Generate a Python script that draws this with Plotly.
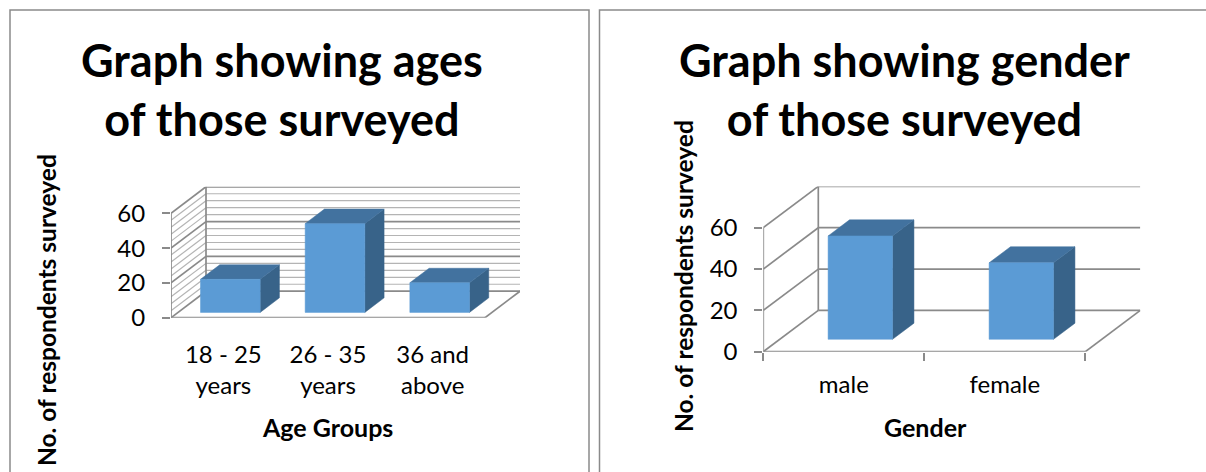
import plotly.graph_objects as go

# ---- data -------------------------------------------------------------
age_groups = ["18 - 25<br>years", "26 - 35<br>years", "36 and<br>above"]
age_counts = [19, 51, 17]

genders = ["male", "female"]
gender_counts = [50, 37]

value_ticks = [0, 20, 40, 60]
value_max = 60

# ---- styling ----------------------------------------------------------
W, H = 1206, 472
FONT = "Lato"
FRONT = "#5b9bd5"
TOP = "#42729f"
SIDE = "#386389"
GRID_MAJOR = "#8a8a8a"
GRID_MINOR = "#b4b4b4"


def px_x(v):
    return v / W


def px_y(v):
    return 1 - v / H


fig = go.Figure()


def add_chart(n, cats, values, xa, ya, geo):
    """Oblique-projection 3D column chart drawn on one pair of axes."""
    ddx = geo["ddx_px"] / geo["px_per_cat"]      # depth offset in category units
    ddy = geo["ddy_px"] / geo["px_per_val"]      # depth offset in value units
    xr = [0, n + ddx]
    yr = [0, value_max + ddy]
    x0 = geo["x0"]
    y0 = geo["y0"]
    dom_x = [px_x(x0), px_x(x0 + (n + ddx) * geo["px_per_cat"])]
    dom_y = [px_y(y0), px_y(y0 - (value_max + ddy) * geo["px_per_val"])]
    ax = dict(xaxis=xa.replace("x", "xaxis"), yaxis=ya.replace("y", "yaxis"))
    kw = dict(xaxis=xa, yaxis=ya, showlegend=False, hoverinfo="skip")

    def lines(segs, color, width):
        xs, ys = [], []
        for (a, b), (c, d) in segs:
            xs += [a, c, None]
            ys += [b, d, None]
        fig.add_trace(go.Scatter(x=xs, y=ys, mode="lines",
                                 line=dict(color=color, width=width), **kw))

    levels_minor = list(range(0, value_max + 1, geo["minor"])) if geo["minor"] else []
    minor_only = [v for v in levels_minor if v not in value_ticks]

    # side wall and back wall, minor lines
    if minor_only:
        lines([((0, v), (ddx, v + ddy)) for v in minor_only], GRID_MINOR, 1.2)
        lines([((ddx, v + ddy), (n + ddx, v + ddy)) for v in minor_only], GRID_MINOR, 1.2)
    # major levels
    lines([((0, v), (ddx, v + ddy)) for v in value_ticks], GRID_MAJOR, 1.7)
    lines([((ddx, v + ddy), (n + ddx, v + ddy)) for v in value_ticks], GRID_MAJOR, 1.7)
    # wall edge, front axis, floor edges
    lines([((ddx, ddy), (ddx, value_max + ddy)),
           ((0, 0), (0, value_max)),
           ((0, 0), (n, 0)),
           ((n, 0), (n + ddx, ddy))], GRID_MAJOR, 1.7)

    # columns
    bw = geo["bar_w"]
    f0, f1 = geo["f0"], geo["f1"]
    dd = (f1 - f0) * ddx
    dv = (f1 - f0) * ddy
    for i, v in enumerate(values):
        bx0 = i + (1 - bw) / 2 + f0 * ddx
        bx1 = bx0 + bw
        by0 = f0 * ddy
        by1 = v + by0
        faces = [
            ([bx1, bx1 + dd, bx1 + dd, bx1, bx1], [by0, by0 + dv, by1 + dv, by1, by0], SIDE),
            ([bx0, bx1, bx1 + dd, bx0 + dd, bx0], [by1, by1, by1 + dv, by1 + dv, by1], TOP),
            ([bx0, bx1, bx1, bx0, bx0], [by0, by0, by1, by1, by0], FRONT),
        ]
        for fx, fy, col in faces:
            fig.add_trace(go.Scatter(x=fx, y=fy, mode="lines", fill="toself",
                                     fillcolor=col, line=dict(color=col, width=0.5), **kw))

    fig.update_layout({
        ax["xaxis"]: dict(
            domain=dom_x, range=xr, showgrid=False, zeroline=False, showline=False,
            automargin=False,
            tickmode="array", tickvals=[i + 0.5 for i in range(n)], ticktext=cats,
            ticks="", ticklabelstandoff=geo["xstand"],
            tickfont=dict(family=FONT, size=geo["tick_size"], color="#000"),
            minor=dict(tickmode="array", tickvals=list(range(n + 1)) if geo["xticks"] else [],
                       ticks="outside" if geo["xticks"] else "", ticklen=8,
                       tickcolor=GRID_MAJOR, tickwidth=1.5, showgrid=False),
            anchor=ya, fixedrange=True,
        ),
        ax["yaxis"]: dict(
            domain=dom_y, range=yr, showgrid=False, zeroline=False, showline=False,
            automargin=False,
            tickmode="array", tickvals=value_ticks, ticks="outside", ticklen=8,
            tickcolor=GRID_MAJOR, tickwidth=1.5, ticklabelstandoff=geo["ystand"],
            tickfont=dict(family=FONT, size=geo["tick_size"], color="#000"),
            anchor=xa, fixedrange=True,
        ),
    })


add_chart(3, age_groups, age_counts, "x", "y", dict(
    x0=171, y0=317.7, px_per_cat=104.67, px_per_val=1.74,
    ddx_px=35, ddy_px=26.5, minor=4, bar_w=0.57, f0=0.2, f1=0.75,
    xticks=False, xstand=20, ystand=12, tick_size=24))

add_chart(2, genders, gender_counts, "x2", "y2", dict(
    x0=763.3, y0=351.7, px_per_cat=161, px_per_val=2.067,
    ddx_px=55, ddy_px=41.3, minor=0, bar_w=0.40, f0=0.30, f1=0.69,
    xticks=True, xstand=16, ystand=12, tick_size=24))

# ---- text -------------------------------------------------------------
def note(text, x, y, size, bold=True, angle=0, xanchor="center", yanchor="middle"):
    fig.add_annotation(text=f"<b>{text}</b>" if bold else text,
                       x=px_x(x), y=px_y(y), xref="paper", yref="paper",
                       showarrow=False, textangle=angle, xanchor=xanchor, yanchor=yanchor,
                       font=dict(family=FONT, size=size, color="#000"))


note("Graph showing ages<br>of those surveyed", 282, 89, 45)
note("Graph showing gender<br>of those surveyed", 904.5, 89, 45)
note("No. of respondents surveyed", 46, 310, 24.5, angle=-90)
note("No. of respondents surveyed", 683, 276, 24.5, angle=-90)
note("Age Groups", 327, 427, 25)
note("Gender", 925, 427, 25)

# chart area frames
frame = dict(color="#8a8a8a", width=1.5)
fig.add_shape(type="rect", xref="paper", yref="paper",
              x0=px_x(10), x1=px_x(589), y0=px_y(490), y1=px_y(10), line=frame)
fig.add_shape(type="rect", xref="paper", yref="paper",
              x0=px_x(599.5), x1=px_x(1225), y0=px_y(490), y1=px_y(10), line=frame)

fig.update_layout(width=W, height=H, autosize=False,
                  margin=dict(l=0, r=0, t=0, b=0, pad=0),
                  paper_bgcolor="white", plot_bgcolor="rgba(0,0,0,0)",
                  showlegend=False)

fig.write_html("out.html", config={"responsive": False})
